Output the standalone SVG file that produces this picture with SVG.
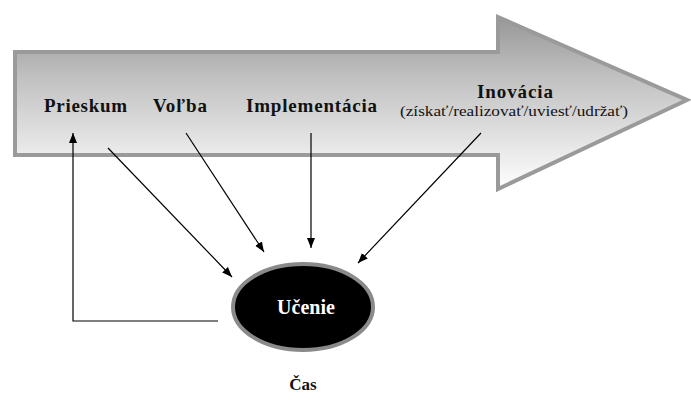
<svg xmlns="http://www.w3.org/2000/svg" width="691" height="403" viewBox="0 0 691 403">
  <defs>
    <linearGradient id="bandFill" gradientUnits="userSpaceOnUse" x1="0" y1="15" x2="0" y2="190">
      <stop offset="0" stop-color="#969696"/>
      <stop offset="0.35" stop-color="#c0c0c0"/>
      <stop offset="1" stop-color="#ffffff"/>
    </linearGradient>
    <marker id="head" viewBox="0 0 10 10" refX="10" refY="5" markerWidth="10" markerHeight="10" markerUnits="userSpaceOnUse" orient="auto">
      <path d="M0,1 L10,5 L0,9 z" fill="#000"/>
    </marker>
    <style>
      .lbl { font-family: "Liberation Serif", "Times New Roman", serif; font-weight: bold; fill: #111; }
      .sub { font-family: "Liberation Serif", "Times New Roman", serif; font-size: 14px; fill: #111; }
      .conn { stroke: #000; stroke-width: 1.2; fill: none; marker-end: url(#head); }
    </style>
  </defs>

  <rect width="691" height="403" fill="#ffffff"/>

  <!-- time band (big arrow) -->
  <g id="time-arrow">
    <polygon points="15,52 498,52 498,17 687,100 498,189 498,155 15,155" fill="url(#bandFill)" stroke="#9a9a9a" stroke-width="4" stroke-linejoin="miter"/>
    <text class="lbl" x="44" y="112" font-size="19" textLength="83" lengthAdjust="spacing">Prieskum</text>
    <text class="lbl" x="153" y="112" font-size="19" textLength="54" lengthAdjust="spacing">Voľba</text>
    <text class="lbl" x="246" y="112" font-size="19" textLength="131" lengthAdjust="spacing">Implementácia</text>
    <text class="lbl" x="477" y="98" font-size="19" textLength="76" lengthAdjust="spacing">Inovácia</text>
    <text class="sub" x="400" y="116" textLength="228" lengthAdjust="spacingAndGlyphs">(získať/realizovať/uviesť/udržať)</text>
  </g>

  <!-- learning node -->
  <g id="ucenie">
    <ellipse cx="303" cy="307" rx="70" ry="43" fill="#000" stroke="#8a8a8a" stroke-width="4"/>
    <text x="306" y="314" text-anchor="middle" font-family="Liberation Serif, Times New Roman, serif" font-weight="bold" font-size="20" fill="#fff" textLength="58" lengthAdjust="spacing">Učenie</text>
  </g>

  <!-- connectors -->
  <g id="connectors">
    <line class="conn" x1="108" y1="148" x2="232" y2="277"/>
    <line class="conn" x1="186" y1="133" x2="264" y2="252"/>
    <line class="conn" x1="311" y1="133" x2="311" y2="248"/>
    <line class="conn" x1="481" y1="133" x2="358" y2="263"/>
    <polyline class="conn" points="218,321 73,321 73,133"/>
  </g>

  <g id="cas">
    <text class="lbl" x="303" y="390" text-anchor="middle" font-size="17">Čas</text>
  </g>
</svg>
